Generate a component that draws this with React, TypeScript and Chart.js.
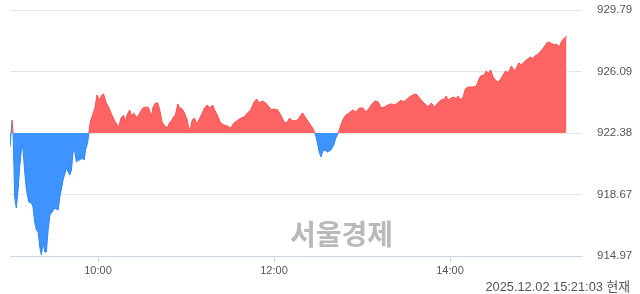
import React, { useEffect, useRef } from "react";
import { Chart, registerables } from "chart.js";

Chart.register(...registerables);

// minutes after 09:00
const timesMin = [
  0, 1.4, 2.1, 3.2, 4.3, 5.5, 6.6, 8.2, 8.9, 10.1, 11.2, 12.8, 14.6, 15.7, 16.9, 18.0, 19.2, 20.3, 21.4, 22.6,
  23.7, 24.8, 26.0, 27.2, 28.2, 30.6, 32.8, 34.0, 36.2, 38.5, 39.7, 40.8, 41.9, 43.1, 44.2, 45.3, 46.5, 47.7, 49.2, 50.6,
  51.5, 52.9, 53.8, 54.7, 56.8, 57.9, 59.3, 60.9, 62.7, 63.8, 65.6, 67.2, 69.5, 71.8, 74.1, 75.7, 77.5, 78.6, 79.8, 81.6,
  83.2, 84.3, 86.6, 88.9, 90.7, 93.5, 94.6, 96.2, 97.6, 99.2, 100.7, 102.1, 103.7, 106.0, 107.6, 108.9, 109.9, 111.3, 112.8, 114.4,
  115.8, 117.4, 119.0, 120.8, 121.9, 122.6, 124.2, 125.8, 127.2, 128.8, 131.1, 132.7, 134.5, 136.3, 138.1, 139.5, 141.3, 143.6, 145.9, 148.2,
  150.4, 152.7, 155.4, 157.7, 159.5, 161.9, 164.1, 166.4, 168.2, 169.8, 172.1, 174.4, 176.6, 178.3, 180.0, 182.4, 184.6, 186.9, 188.7, 190.6,
  191.9, 193.7, 196.0, 199.5, 201.7, 204.0, 206.3, 207.9, 209.2, 210.8, 212.0, 213.1, 214.2, 216.6, 218.8, 220.7, 222.2, 223.8, 225.6, 227.5,
  229.1, 231.3, 233.6, 235.9, 238.2, 240.5, 242.7, 245.0, 247.3, 248.9, 251.1, 253.0, 255.3, 257.6, 259.8, 262.1, 264.4, 266.7, 267.8, 270.1,
  272.3, 274.7, 276.9, 279.2, 281.5, 283.8, 284.9, 287.2, 289.4, 291.8, 294.0, 296.3, 297.4, 298.6, 300.9, 302.7, 304.3, 305.4, 307.2, 308.9,
  310.4, 312.3, 315.7, 318.0, 319.5, 320.9, 323.2, 324.8, 326.0, 327.7, 329.4, 330.9, 332.8, 334.6, 336.2, 337.8, 339.6, 341.9, 343.7, 345.3,
  346.9, 348.7, 350.6, 352.8, 355.1, 356.7, 357.8, 360.1, 361.9, 364.2, 366.5, 368.8, 371.1, 372.7, 374.2, 375.6, 377.2, 378.3, 379.5,
];

const indexValues = [
  921.55, 923.16, 922.38, 918.52, 917.86, 918.95, 920.33, 921.78, 921.36, 919.97, 918.95, 918.22, 918.16, 917.92, 916.96, 916.54, 916.42, 915.51, 915.03, 915.81,
  915.21, 915.21, 916.54, 917.44, 917.56, 917.86, 917.74, 918.52, 919.55, 920.27, 920.03, 919.85, 920.15, 921.36, 921.24, 920.63, 920.75, 920.75, 920.87, 920.75,
  921.36, 921.78, 922.38, 923.04, 923.59, 923.89, 924.67, 924.37, 924.67, 924.73, 924.19, 923.95, 923.46, 923.04, 922.74, 923.28, 923.46, 923.04, 923.46, 923.77,
  923.34, 923.59, 923.28, 923.65, 923.89, 923.95, 923.89, 923.34, 923.95, 924.19, 924.19, 923.77, 923.04, 922.74, 922.74, 923.04, 923.04, 923.34, 923.46, 924.13,
  923.89, 923.83, 923.59, 923.16, 922.68, 922.44, 923.16, 923.28, 922.92, 923.16, 923.59, 923.89, 924.07, 923.89, 924.07, 923.77, 923.46, 922.98, 922.86, 922.80,
  922.68, 922.98, 923.16, 923.28, 923.34, 923.59, 923.77, 924.25, 924.43, 924.19, 924.31, 924.19, 923.95, 923.77, 923.83, 923.77, 923.46, 923.04, 922.98, 923.28,
  923.16, 923.10, 923.16, 923.59, 923.28, 922.98, 922.68, 922.38, 921.96, 921.24, 920.94, 921.24, 921.36, 921.24, 921.36, 921.66, 922.08, 922.38, 922.86, 923.28,
  923.46, 923.59, 923.77, 923.65, 923.89, 923.89, 923.65, 923.89, 924.19, 924.31, 924.25, 923.89, 923.95, 924.07, 924.13, 924.07, 924.19, 924.37, 924.25, 924.37,
  924.55, 924.67, 924.73, 924.49, 924.25, 924.07, 923.95, 924.19, 923.95, 924.19, 924.37, 924.43, 924.61, 924.37, 924.49, 924.55, 924.43, 924.61, 924.37, 924.55,
  925.03, 925.15, 925.15, 925.21, 925.57, 925.81, 925.87, 926.12, 925.93, 926.18, 925.75, 925.57, 925.45, 925.63, 925.87, 926.12, 925.99, 926.42, 926.12, 926.30,
  926.60, 926.48, 926.66, 926.84, 926.96, 926.84, 927.02, 927.14, 927.32, 927.56, 927.86, 927.80, 927.68, 927.74, 927.56, 927.80, 928.04, 928.10, 928.22,
];

const baseline = 922.38;
const yTickValues = [914.97, 918.67, 922.38, 926.09, 929.79];
const xTickMinutes = [60, 180, 300];
const xTickLabels = ["10:00", "12:00", "14:00"];
const watermarkText = "서울경제";
const timestampText = "2025.12.02 15:21:03 현재";

const RED_FILL = "#ff6464";
const RED_LINE = "#ff4f4f";
const BLUE_FILL = "#3f93ff";
const BLUE_LINE = "#2d85f7";
const FONT = "'Liberation Sans', Arial, sans-serif";

export default function App() {
  const canvasRef = useRef<HTMLCanvasElement | null>(null);

  useEffect(() => {
    document.body.style.margin = "0";
    const canvas = canvasRef.current;
    if (!canvas) return;
    const points = timesMin.map((t, i) => ({ x: t, y: indexValues[i] }));
    const chart = new Chart(canvas, {
      type: "line",
      data: {
        datasets: [
          {
            data: points,
            borderWidth: 1,
            borderColor: RED_LINE,
            pointRadius: 0,
            tension: 0,
            fill: { target: { value: baseline }, above: RED_FILL, below: BLUE_FILL },
            segment: {
              borderColor: (ctx: any) =>
                (ctx.p0.parsed.y + ctx.p1.parsed.y) / 2 >= baseline ? RED_LINE : BLUE_LINE,
            },
          },
        ],
      },
      options: {
        responsive: false,
        animation: false,
        layout: { padding: { left: 10, top: 10, right: 0, bottom: 0 } },
        plugins: { legend: { display: false }, tooltip: { enabled: false } },
        scales: {
          x: {
            type: "linear",
            min: 0,
            max: 390,
            afterBuildTicks: (scale: any) => {
              scale.ticks = xTickMinutes.map((v) => ({ value: v }));
            },
            afterFit: (scale: any) => {
              scale.height = 38;
              scale.paddingLeft = 0;
              scale.paddingRight = 0;
            },
            ticks: {
              autoSkip: false,
              maxRotation: 0,
              padding: 2,
              color: "#555",
              font: { family: FONT, size: 11 },
              callback: (v: any) => {
                const i = xTickMinutes.indexOf(Number(v));
                return i >= 0 ? xTickLabels[i] : "";
              },
            },
            grid: { drawOnChartArea: false, drawTicks: true, tickLength: 6, color: "#c9d6ea" },
            border: { display: true, color: "#c9d6ea", width: 1 },
          },
          y: {
            position: "right",
            min: 914.97,
            max: 929.79,
            afterBuildTicks: (scale: any) => {
              scale.ticks = yTickValues.map((v) => ({ value: v }));
            },
            afterFit: (scale: any) => {
              scale.width = 58;
              scale.paddingTop = 0;
              scale.paddingBottom = 0;
            },
            ticks: {
              padding: 15,
              color: "#555",
              font: { family: FONT, size: 11.5 },
              callback: (v: any) => Number(v).toFixed(2),
            },
            grid: { drawTicks: false, color: "#e6e6e6" },
            border: { display: false },
          },
        },
      },
    });
    return () => chart.destroy();
  }, []);

  return (
    <div style={{ position: "absolute", left: 0, top: 0, width: 640, height: 294, background: "#fff" }}>
      <canvas ref={canvasRef} width={640} height={294} style={{ position: "absolute", left: 0, top: 0 }} />
      <div
        style={{
          position: "absolute",
          left: 290,
          top: 216,
          fontFamily: "'Noto Sans CJK KR', sans-serif",
          fontWeight: 700,
          fontSize: 28,
          lineHeight: "34px",
          color: "#b9b9b9",
          letterSpacing: 0,
          whiteSpace: "nowrap",
        }}
      >
        {watermarkText}
      </div>
      <div
        style={{
          position: "absolute",
          right: 10,
          top: 279,
          fontFamily: FONT + ", 'Noto Sans CJK KR'",
          fontSize: 12.8,
          lineHeight: "15px",
          color: "#555",
          whiteSpace: "nowrap",
        }}
      >
        {timestampText}
      </div>
    </div>
  );
}
